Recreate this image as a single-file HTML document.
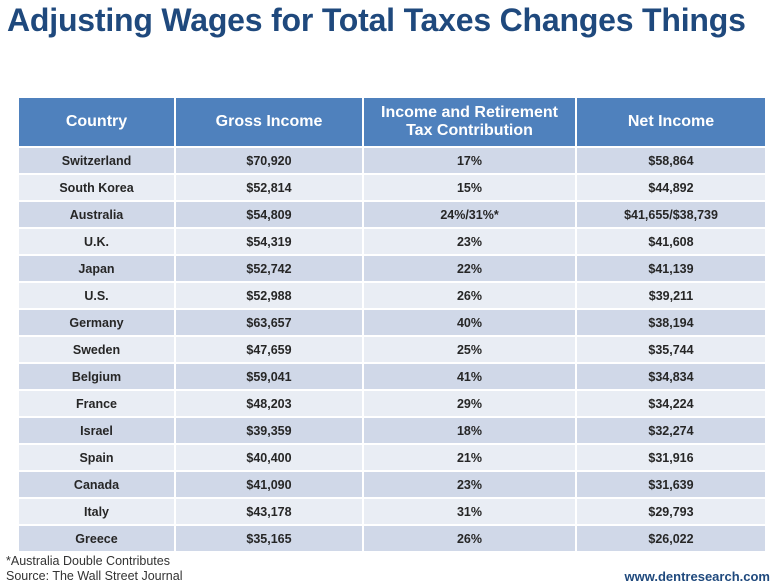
<!DOCTYPE html>
<html><head><meta charset="utf-8"><style>
body{margin:0;width:780px;height:586px;background:#fff;font-family:"Liberation Sans",sans-serif;position:relative;overflow:hidden}
h1{position:absolute;left:7px;top:2px;margin:0;font-size:32px;color:#1f497d;font-weight:bold;white-space:nowrap;letter-spacing:-0.2px}
table{position:absolute;left:17px;top:96px;width:748px;border-collapse:collapse;table-layout:fixed}
td,th{border:2px solid #fff;text-align:center;padding:0}
th{background:#4f81bd;color:#fff;font-size:16px;font-weight:bold;height:48px;line-height:18px}
td{height:25px;font-size:12.5px;font-weight:bold;color:#262626}
tr.d td{background:#d0d8e8}
tr.l td{background:#e9edf4}
.fn{position:absolute;left:6px;font-size:12.5px;color:#333}
.web{position:absolute;right:10px;top:569px;font-size:13px;font-weight:bold;color:#1f497d}
</style></head><body>
<h1>Adjusting Wages for Total Taxes Changes Things</h1>
<table>
<colgroup><col style="width:157px"><col style="width:188px"><col style="width:213px"><col style="width:190px"></colgroup>
<thead><tr><th>Country</th><th>Gross Income</th><th>Income and Retirement<br>Tax Contribution</th><th>Net Income</th></tr></thead>
<tbody id="tb"></tbody>
</table>
<div class="fn" style="top:554px">*Australia Double Contributes</div>
<div class="fn" style="top:569px">Source: The Wall Street Journal</div>
<div class="web">www.dentresearch.com</div>
<script>
const countries=["Switzerland","South Korea","Australia","U.K.","Japan","U.S.","Germany","Sweden","Belgium","France","Israel","Spain","Canada","Italy","Greece"];
const gross=["$70,920","$52,814","$54,809","$54,319","$52,742","$52,988","$63,657","$47,659","$59,041","$48,203","$39,359","$40,400","$41,090","$43,178","$35,165"];
const taxes=["17%","15%","24%/31%*","23%","22%","26%","40%","25%","41%","29%","18%","21%","23%","31%","26%"];
const net=["$58,864","$44,892","$41,655/$38,739","$41,608","$41,139","$39,211","$38,194","$35,744","$34,834","$34,224","$32,274","$31,916","$31,639","$29,793","$26,022"];
const tb=document.getElementById('tb');
countries.forEach((c,i)=>{
  const tr=document.createElement('tr');
  tr.className=i%2?'l':'d';
  
  
  [c,gross[i],taxes[i],net[i]].forEach(v=>{const td=document.createElement('td');td.textContent=v;tr.appendChild(td);});
  tb.appendChild(tr);
});
</script>
</body></html>
